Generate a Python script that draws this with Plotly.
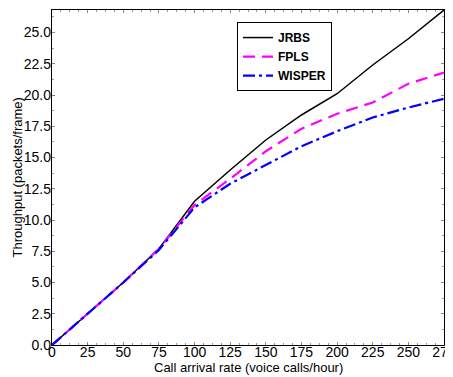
import plotly.graph_objects as go

rate = [0, 25, 50, 75, 100, 125, 150, 175, 200, 225, 250, 275]
jrbs = [0.0, 2.5, 5.0, 7.7, 11.5, 14.0, 16.4, 18.4, 20.1, 22.4, 24.5, 26.8]
fpls = [0.0, 2.5, 5.0, 7.7, 11.2, 13.3, 15.5, 17.3, 18.5, 19.4, 20.9, 21.8]
wisper = [0.0, 2.5, 5.0, 7.6, 11.0, 12.9, 14.4, 15.9, 17.1, 18.2, 19.0, 19.7]

x_ticks = [0, 25, 50, 75, 100, 125, 150, 175, 200, 225, 250, 275]
y_ticks = [0.0, 2.5, 5.0, 7.5, 10.0, 12.5, 15.0, 17.5, 20.0, 22.5, 25.0]

x_title = "Call arrival rate (voice calls/hour)"
y_title = "Throughput (packets/frame)"

fig = go.Figure()
fig.add_trace(go.Scatter(x=rate, y=jrbs, mode="lines", name="JRBS",
                         line=dict(color="black", width=1.5, dash="solid")))
fig.add_trace(go.Scatter(x=rate, y=fpls, mode="lines", name="FPLS",
                         line=dict(color="#ff00ff", width=2.2, dash="12px,7px")))
fig.add_trace(go.Scatter(x=rate, y=wisper, mode="lines", name="WISPER",
                         line=dict(color="#0000ff", width=2.2, dash="12px,4px,3px,4px")))

axis_common = dict(showgrid=False, zeroline=False, showline=True, linecolor="black",
                   linewidth=1.3, mirror="ticks", ticks="inside", ticklen=3,
                   tickcolor="#888888", tickfont=dict(size=14, color="black"),
                   automargin=False, ticklabeloverflow="allow")

# page body has an 8px offset, so the figure is sized/margined to compensate
fig.update_layout(
    width=445, height=369,
    margin=dict(l=44, r=9, t=2, b=32, autoexpand=False),
    paper_bgcolor="white", plot_bgcolor="white",
    font=dict(family="Arial, Liberation Sans, sans-serif", color="black"),
    showlegend=True,
    legend=dict(x=0.472, y=0.964, xanchor="left", yanchor="top",
                bordercolor="black", borderwidth=1, bgcolor="white",
                font=dict(size=12, family="Arial, Liberation Sans, sans-serif", weight="bold"),
                tracegroupgap=0),
    xaxis=dict(range=[0, 275], tickvals=x_ticks, ticktext=[str(v) for v in x_ticks],
               minor=dict(ticks="inside", ticklen=2, tickcolor="#999999", dtick=6.25),
               ticklabelstandoff=-6, **axis_common),
    yaxis=dict(range=[0, 26.8], tickvals=y_ticks, ticktext=[f"{v:.1f}" for v in y_ticks],
               minor=dict(ticks="inside", ticklen=2, tickcolor="#999999", dtick=1.25),
               ticklabelstandoff=-3, **axis_common),
    annotations=[
        dict(text=x_title, xref="paper", yref="paper", x=0.5, y=0, yshift=-22,
             xanchor="center", yanchor="middle", showarrow=False, font=dict(size=13)),
        dict(text=y_title, xref="paper", yref="paper", x=0, y=0.5, xshift=-35,
             xanchor="center", yanchor="middle", textangle=-90, showarrow=False,
             font=dict(size=13)),
    ],
)

fig.write_html("out.html")
